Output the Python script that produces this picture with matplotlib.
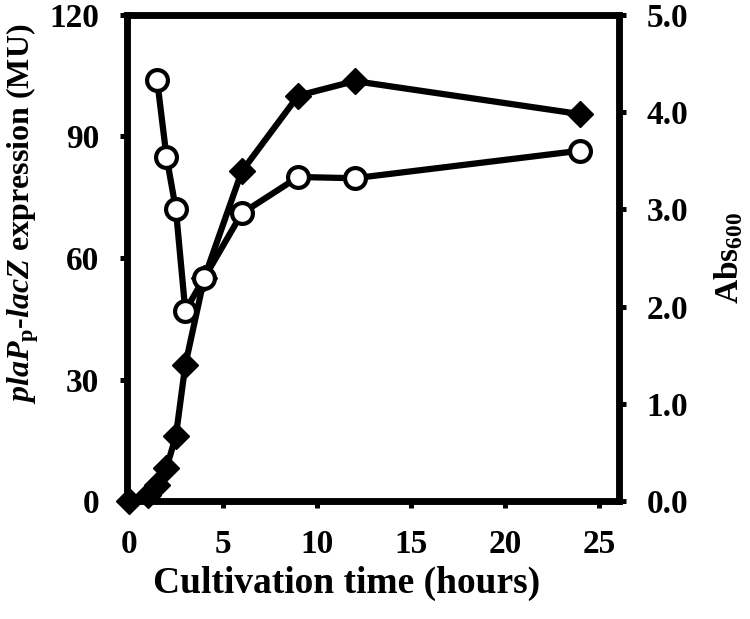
import matplotlib
matplotlib.use("Agg")
import matplotlib.pyplot as plt

# data
time_abs = [0, 1, 1.5, 2, 2.5, 3, 4, 6, 9, 12, 24]
abs600 = [0.0, 0.06, 0.16, 0.34, 0.67, 1.40, 2.29, 3.39, 4.17, 4.32, 3.98]

time_mu = [1.5, 2, 2.5, 3, 4, 6, 9, 12, 24]
expression = [104, 85, 72, 47, 55, 71, 80, 79.7, 86.5]

left_ticks = [0, 30, 60, 90, 120]
right_ticks = [0.0, 1.0, 2.0, 3.0, 4.0, 5.0]
x_ticks = [0, 5, 10, 15, 20, 25]

plt.rcParams['font.family'] = ['Liberation Serif', 'DejaVu Serif']
plt.rcParams['font.weight'] = 'bold'
plt.rcParams['mathtext.fontset'] = 'custom'
plt.rcParams['mathtext.it'] = 'Liberation Serif:italic:bold'
plt.rcParams['mathtext.rm'] = 'Liberation Serif:bold'
plt.rcParams['mathtext.bf'] = 'Liberation Serif:bold'

fig = plt.figure(figsize=(7.5, 6.19), dpi=100)
ax = fig.add_axes([0.1693, 0.1906, 0.656, 0.7852])
ax2 = ax.twinx()

lw = 4.7
ax2.plot(time_abs, abs600, color='black', lw=4.5, marker='D', markersize=13,
         markerfacecolor='black', markeredgecolor='black', zorder=3, clip_on=False)
ax.plot(time_mu, expression, color='black', lw=4.5, marker='o', markersize=15,
        markerfacecolor='white', markeredgecolor='black', markeredgewidth=3,
        zorder=2, clip_on=False)

ax.set_zorder(ax2.get_zorder() + 1)
ax.patch.set_visible(False)

ax.set_xlim(-0.1, 26.05)
ax.set_ylim(0, 120)
ax2.set_ylim(0, 5.0)
ax.set_xticks(x_ticks)
ax.set_yticks(left_ticks)
ax2.set_yticks(right_ticks)
ax2.set_yticklabels([f"{v:.1f}" for v in right_ticks])

for a in (ax, ax2):
    for s in a.spines.values():
        s.set_linewidth(lw)
    a.tick_params(direction='out', width=3.6, length=5, labelsize=24, pad=15)

ax.set_xlabel('Cultivation time (hours)', fontsize=27, fontweight='bold')
ax.xaxis.set_label_coords(0.447, -0.134)
ax.set_ylabel(r'$\mathit{plaP}_{\mathrm{p}}$-$\mathit{lacZ}$ expression (MU)',
              fontsize=23, fontweight='bold')
ax.yaxis.set_label_coords(-0.174, 0.59)
ax2.set_ylabel(r'Abs$_{\mathrm{600}}$', fontsize=24, fontweight='bold', labelpad=17)

fig.savefig('out.png', dpi=100)
